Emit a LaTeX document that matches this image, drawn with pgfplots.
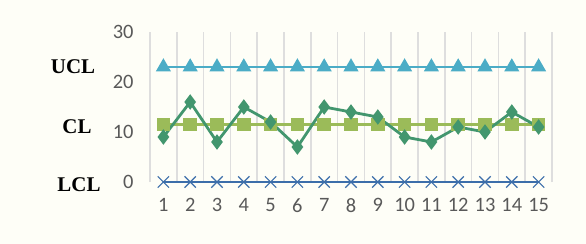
\documentclass[border=0pt]{standalone}
\usepackage{fontspec}
\setmainfont{Carlito}
\newfontfamily\serifb{Liberation Serif}
\usepackage{pgfplots}
\pgfplotsset{compat=1.18}
\definecolor{bgc}{RGB}{254,254,247}
\definecolor{ucl}{RGB}{75,172,198}
\definecolor{clc}{RGB}{155,187,89}
\definecolor{dat}{RGB}{66,150,110}
\definecolor{lcl}{RGB}{60,110,170}
\definecolor{gridc}{RGB}{222,222,222}
\definecolor{tickc}{RGB}{89,89,89}
\begin{document}
\begin{tikzpicture}
\fill[bgc] (-150bp,-62bp) rectangle (436bp,182bp);
\useasboundingbox (-150bp,-62bp) rectangle (436bp,182bp);
\begin{axis}[
  scale only axis, width=402bp, height=150bp,
  xmin=0.5, xmax=15.5, ymin=0, ymax=30,
  xtick={1,...,15}, ytick={0,10,20,30},
  minor xtick={0.5,1.5,...,15.5},
  xminorgrids, minor grid style={gridc, line width=1.5bp},
  axis line style={draw=none},
  major tick length=0pt, minor tick length=0pt,
  tick label style={font=\fontsize{20.5}{22}\selectfont, text=tickc},
  /pgf/number format/assume math mode=true,
  yticklabel style={xshift=-13bp},
  xticklabel style={yshift=-13bp},
  clip=false,
]
\addplot[ucl, line width=2.8pt, mark=triangle*, mark size=6pt] coordinates {
(1,23)(2,23)(3,23)(4,23)(5,23)(6,23)(7,23)(8,23)(9,23)(10,23)(11,23)(12,23)(13,23)(14,23)(15,23)};
\addplot[lcl, line width=2.2pt, mark=x, mark size=8pt, mark options={line width=1.2pt}] coordinates {
(1,0)(2,0)(3,0)(4,0)(5,0)(6,0)(7,0)(8,0)(9,0)(10,0)(11,0)(12,0)(13,0)(14,0)(15,0)};
\addplot[clc, line width=2.8pt, mark=square*, mark size=5.5pt] coordinates {
(1,11.5)(2,11.5)(3,11.5)(4,11.5)(5,11.5)(6,11.5)(7,11.5)(8,11.5)(9,11.5)(10,11.5)(11,11.5)(12,11.5)(13,11.5)(14,11.5)(15,11.5)};
\addplot[dat, line width=2.8pt, mark=diamond*, mark size=5.5pt] coordinates {
(1,9)(2,16)(3,8)(4,15)(5,12)(6,7)(7,15)(8,14)(9,13)(10,9)(11,8)(12,11)(13,10)(14,14)(15,11)};
\node[font=\serifb\bfseries\fontsize{21}{22}\selectfont] at ([xshift=-77bp]axis cs:0.5,23) {UCL};
\node[font=\serifb\bfseries\fontsize{21}{22}\selectfont] at ([xshift=-73bp]axis cs:0.5,11) {CL};
\node[font=\serifb\bfseries\fontsize{21}{22}\selectfont] at ([xshift=-71bp]axis cs:0.5,-0.6) {LCL};
\end{axis}
\end{tikzpicture}
\end{document}
